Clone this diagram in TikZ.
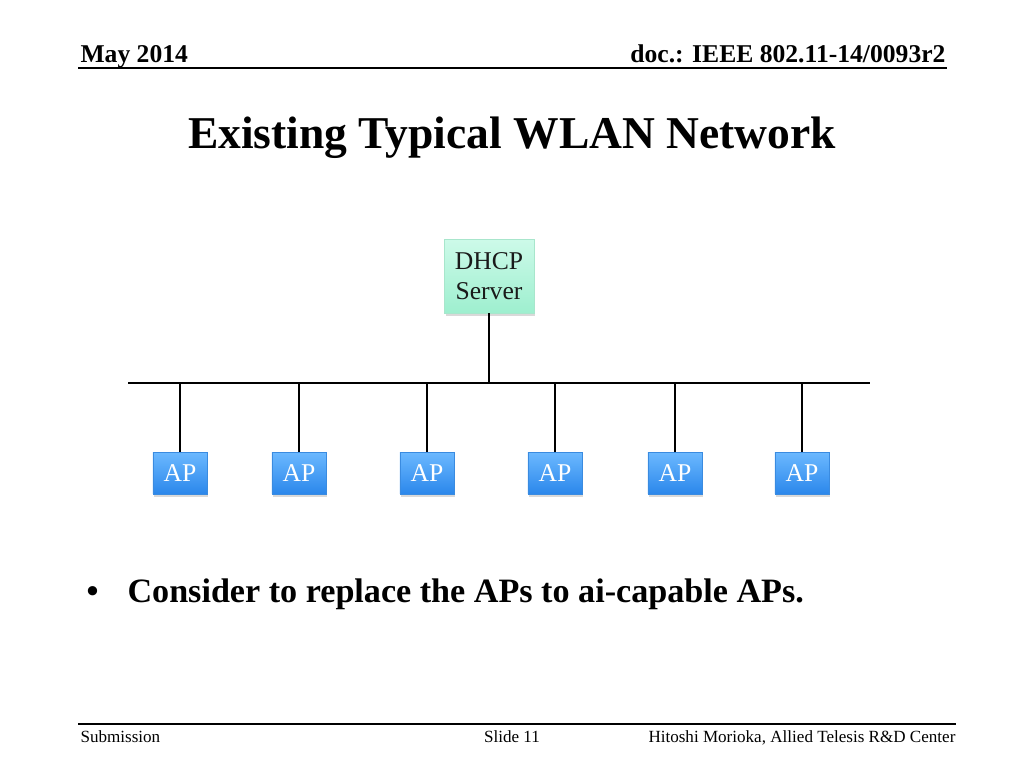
\documentclass[tikz,border=0pt]{standalone}
\usepackage{fontspec}
\setmainfont{Liberation Serif}
\usetikzlibrary{positioning, shadows}
\definecolor{dhcptop}{HTML}{CDFAE9}
\definecolor{dhcpbot}{HTML}{9EEFCF}
\definecolor{dhcpline}{HTML}{A8E6CC}
\definecolor{aptop}{HTML}{6CB9FF}
\definecolor{apbot}{HTML}{2B87EB}
\definecolor{apline}{HTML}{3A8BE0}
\definecolor{txtdark}{HTML}{1A1A1A}

\begin{document}
\begin{tikzpicture}[x=0.703pt, y=-0.703pt, line width=0.75pt,
  srvbox/.style={draw=dhcpline, line width=0.3pt, top color=dhcptop, bottom color=dhcpbot,
    minimum width=63pt, minimum height=52pt, align=center, inner sep=2pt,
    font=\fontsize{18}{21}\selectfont, text=txtdark,
    drop shadow={opacity=0.3, shadow xshift=1pt, shadow yshift=-2pt}},
  apbox/.style={draw=apline, line width=0.3pt, top color=aptop, bottom color=apbot,
    minimum width=38pt, minimum height=29.5pt, inner sep=1pt,
    font=\fontsize{18}{21}\selectfont, text=white,
    drop shadow={opacity=0.3, shadow xshift=1pt, shadow yshift=-2pt}},
  hdr/.style={font=\fontsize{18}{21}\selectfont\bfseries},
  ftr/.style={font=\fontsize{12}{14}\selectfont}]

\useasboundingbox (0,0) rectangle (1024,768);

% Header
\node[hdr, anchor=base west, inner sep=0pt] (date) at (80,62) {May 2014};
\node[hdr, anchor=base east, inner sep=0pt] (docid) at (946,62) {doc.: IEEE 802.11-14/0093r2};
\draw[line width=1pt] (78,68) -- (947,68);

% Title
\node[font=\fontsize{32}{38}\selectfont\bfseries] (title) at (512,138)
  {Existing Typical WLAN Network};

% Server and bus
\node[srvbox] (dhcp) at (489,276) {DHCP\\Server};
\coordinate (busL) at (128,383);
\coordinate (busR) at (870,383);
\draw (busL) -- (busR);
\draw (dhcp.south) -- (dhcp.south |- busL);

% Access points
\foreach \i/\x in {1/180, 2/299, 3/427, 4/555, 5/675, 6/802} {
  \node[apbox] (ap\i) at (\x,473) {AP};
  \draw (ap\i.north) -- (ap\i.north |- busL);
}

% Bullet
\node[font=\fontsize{24}{28}\selectfont\bfseries, anchor=base west, inner sep=0pt]
  (dot) at (86,602) {\textbullet};
\node[font=\fontsize{24}{28}\selectfont\bfseries, anchor=base west, inner sep=0pt]
  (point) at (127,602) {Consider to replace the APs to ai-capable APs.};

% Footer
\draw[line width=1pt] (78,724) -- (956,724);
\node[ftr, anchor=base west, inner sep=0pt] (sub) at (80,742) {Submission};
\node[ftr, anchor=base, inner sep=0pt] (slide) at (512,742) {Slide 11};
\node[ftr, anchor=base east, inner sep=0pt] (auth) at (956,742)
  {Hitoshi Morioka, Allied Telesis R\&D Center};

\end{tikzpicture}
\end{document}
